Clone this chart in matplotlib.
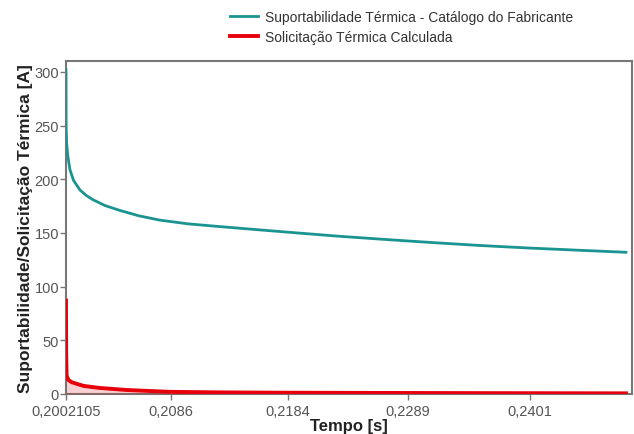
import matplotlib
matplotlib.use('Agg')
import matplotlib.pyplot as plt
from matplotlib.ticker import FixedLocator, NullLocator

plt.rcParams['font.family'] = ['Liberation Sans', 'DejaVu Sans']

# Suportabilidade térmica (catálogo do fabricante)
t_sup = [0.2002105, 0.20022, 0.20026, 0.20035, 0.20052, 0.2008, 0.20131, 0.2018,
         0.20233, 0.2033, 0.20448, 0.2060, 0.20768, 0.2100, 0.21257, 0.2175,
         0.22271, 0.2275, 0.23148, 0.2355, 0.23993, 0.2445, 0.2493]
i_sup = [302, 250, 234, 222, 209, 199, 190, 185,
         181, 175.5, 171, 166, 162, 158.5, 156, 151.5,
         147, 143.5, 140.8, 138.3, 136, 134, 132]

# Solicitação térmica calculada
t_sol = [0.2002105, 0.20022, 0.20026, 0.2004, 0.20065, 0.20107, 0.2016, 0.20288,
         0.20504, 0.20848, 0.21257, 0.2175, 0.225, 0.235, 0.2493]
i_sol = [87, 40, 17, 13, 11, 9.4, 7.5, 5.6,
         3.7, 2.0, 1.5, 1.2, 1.0, 0.8, 0.6]

xticks = [0.2002105, 0.2086, 0.2184, 0.2289, 0.2401]
xticklabels = ['0,2002105', '0,2086', '0,2184', '0,2289', '0,2401']
yticks = [0, 50, 100, 150, 200, 250, 300]

teal = '#1a9491'
red = '#e8000b'
grey = '#555555'

fig = plt.figure(figsize=(6.34, 4.35), dpi=100)
ax = fig.add_axes([0.1041, 0.092, 0.8929, 0.765])

ax.fill_between(t_sol, 0, i_sol, color=red, alpha=0.18, lw=0, zorder=3)
ax.plot(t_sup, i_sup, color=teal, lw=2, zorder=4,
        label='Suportabilidade Térmica - Catálogo do Fabricante')
ax.plot(t_sol, i_sol, color=red, lw=2.8, zorder=4,
        label='Solicitação Térmica Calculada')

ax.set_xscale('log')
ax.set_xlim(0.2002105, 0.2499)
ax.set_ylim(0, 310)
ax.xaxis.set_major_locator(FixedLocator(xticks))
ax.xaxis.set_minor_locator(NullLocator())
ax.set_xticklabels(xticklabels)
ax.set_yticks(yticks)

for sp in ax.spines.values():
    sp.set_color('#777777')
    sp.set_linewidth(1.5)
ax.tick_params(axis='both', colors='#777777', labelcolor=grey, labelsize=10.5,
               length=4, width=1)
ax.tick_params(axis='y', pad=1)
ax.tick_params(axis='x', pad=3)

ax.set_xlabel('Tempo [s]', fontsize=12, fontweight='bold', color='#222222', labelpad=0)
ax.set_ylabel('Suportabilidade/Solicitação Térmica [A]', fontsize=12.5,
              fontweight='bold', color='#222222', labelpad=1)

fig.legend(loc='upper left', bbox_to_anchor=(0.3545, 0.987), frameon=False,
           fontsize=10, labelcolor='#333333', handlelength=2.0,
           handletextpad=0.5, labelspacing=0.4, borderaxespad=0)

fig.savefig('out.png', dpi=100)
